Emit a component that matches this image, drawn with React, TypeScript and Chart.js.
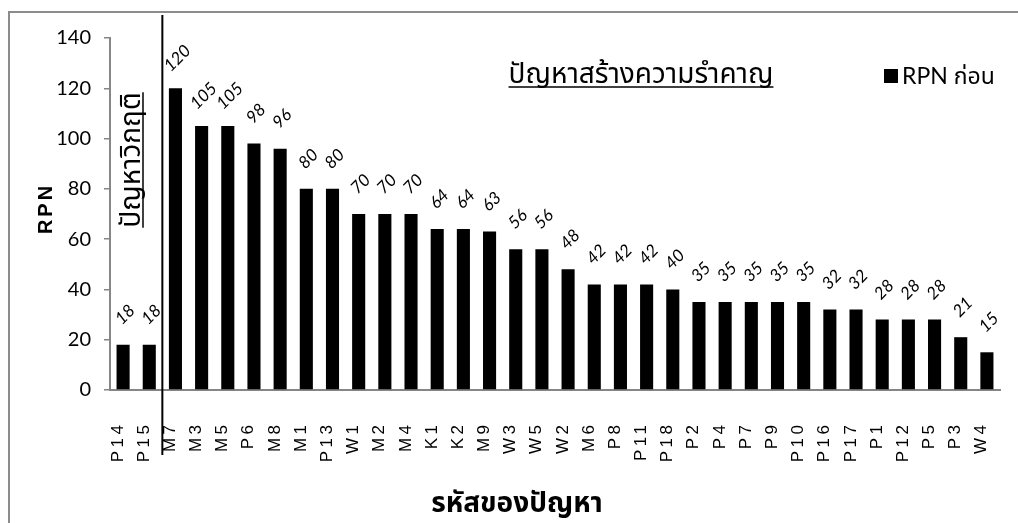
import React, { useEffect, useRef } from "react";
import { Chart, registerables } from "chart.js";

Chart.register(...registerables);

// ---------- data ----------
const categories = [
  "P14", "P15", "M7", "M3", "M5", "P6", "M8", "M1", "P13", "W1", "M2", "M4",
  "K1", "K2", "M9", "W3", "W5", "W2", "M6", "P8", "P11", "P18", "P2", "P4",
  "P7", "P9", "P10", "P16", "P17", "P1", "P12", "P5", "P3", "W4",
];
const rpnBefore = [
  18, 18, 120, 105, 105, 98, 96, 80, 80, 70, 70, 70,
  64, 64, 63, 56, 56, 48, 42, 42, 42, 40, 35, 35,
  35, 35, 35, 32, 32, 28, 28, 28, 21, 15,
];
const yMin = 0;
const yMax = 140;
const yStep = 20;
const seriesLabel = "RPN ก่อน";
const yTitle = "RPN";
const xTitle = "รหัสของปัญหา";
const criticalLabel = "ปัญหาวิกฤติ";
const nuisanceLabel = "ปัญหาสร้างความรำคาญ";
const criticalCount = 2;

const THAI = "'Noto Sans Thai', 'Noto Sans Thai UI', Loma, Garuda, 'Tlwg Typo', Kinnari, 'Noto Sans', sans-serif";
const LATO = "Lato, 'Liberation Sans', sans-serif";
const SANS = "'Liberation Sans', Arial, sans-serif";
const AXIS_GRAY = "#868686";

const overlayPlugin = {
  id: "overlay",
  afterDraw(chart: any) {
    const { ctx, chartArea } = chart;
    const xs = chart.scales.x;
    const meta = chart.getDatasetMeta(0);
    ctx.save();

    // separator between critical and nuisance problems
    const xSep = (xs.getPixelForValue(criticalCount - 1) + xs.getPixelForValue(criticalCount)) / 2;
    ctx.strokeStyle = "#000";
    ctx.lineWidth = 2;
    ctx.beginPath();
    ctx.moveTo(xSep, chartArea.top - 23);
    ctx.lineTo(xSep, chartArea.bottom + 65);
    ctx.stroke();

    // value labels, rotated
    ctx.fillStyle = "#000";
    ctx.font = `italic 17px ${LATO}`;
    meta.data.forEach((bar: any, i: number) => {
      ctx.save();
      ctx.translate(bar.x + 2, bar.y - 30);
      ctx.rotate(-Math.PI / 4);
      ctx.textAlign = "center";
      ctx.textBaseline = "middle";
      ctx.fillText(String(rpnBefore[i]), 0, 0);
      ctx.restore();
    });

    // category labels, vertical
    ctx.font = `17px ${SANS}`;
    categories.forEach((c, i) => {
      const x = xs.getPixelForValue(i);
      ctx.save();
      (ctx as any).letterSpacing = "3.5px";
      ctx.translate(x - 0.5, chartArea.bottom + 31.5);
      ctx.rotate(-Math.PI / 2);
      ctx.textAlign = "right";
      ctx.textBaseline = "alphabetic";
      ctx.fillText(c, 0, 0);
      ctx.restore();
    });

    // y axis title
    ctx.save();
    ctx.font = `bold 20px ${SANS}`;
    (ctx as any).letterSpacing = "3px";
    ctx.translate(52, 210);
    ctx.rotate(-Math.PI / 2);
    ctx.textAlign = "center";
    ctx.textBaseline = "alphabetic";
    ctx.fillText(yTitle, 1.5, 0);
    ctx.restore();

    // x axis title
    ctx.font = `bold 28px ${THAI}`;
    ctx.textAlign = "center";
    ctx.textBaseline = "alphabetic";
    ctx.fillText(xTitle, 517, 512);

    // nuisance label (underlined)
    ctx.font = `28px ${THAI}`;
    ctx.textAlign = "center";
    const nx = 641;
    const nw = ctx.measureText(nuisanceLabel).width;
    ctx.fillText(nuisanceLabel, nx, 83);
    ctx.lineWidth = 1.5;
    ctx.beginPath();
    ctx.moveTo(nx - nw / 2, 87);
    ctx.lineTo(nx + nw / 2, 87);
    ctx.stroke();

    // critical label (vertical, underlined)
    ctx.save();
    ctx.translate(140, 160);
    ctx.rotate(-Math.PI / 2);
    ctx.font = `28px ${THAI}`;
    ctx.textAlign = "center";
    ctx.textBaseline = "alphabetic";
    const cw = ctx.measureText(criticalLabel).width;
    ctx.fillText(criticalLabel, 0, 0);
    ctx.lineWidth = 1.5;
    ctx.beginPath();
    ctx.moveTo(-cw / 2, 3);
    ctx.lineTo(cw / 2, 3);
    ctx.stroke();
    ctx.restore();

    // legend
    ctx.fillStyle = "#000";
    ctx.fillRect(884, 69, 14, 14);
    ctx.font = `23px Lato, ${THAI}`;
    ctx.textAlign = "left";
    ctx.textBaseline = "alphabetic";
    ctx.fillText(seriesLabel, 902, 84);

    ctx.restore();
  },
};

export default function App() {
  const canvasRef = useRef<HTMLCanvasElement | null>(null);

  useEffect(() => {
    if (!canvasRef.current) return;
    const chart = new Chart(canvasRef.current, {
      type: "bar",
      data: {
        labels: categories,
        datasets: [
          {
            label: seriesLabel,
            data: rpnBefore,
            backgroundColor: "#000000",
            borderWidth: 0,
            barPercentage: 0.5,
            categoryPercentage: 1,
          },
        ],
      },
      options: {
        animation: false,
        responsive: false,
        maintainAspectRatio: false,
        layout: { padding: { left: 0, top: 38, right: 18, bottom: 0 } },
        plugins: {
          legend: { display: false },
          tooltip: { enabled: false },
          title: { display: false },
        },
        scales: {
          x: {
            grid: { display: false },
            border: { display: true, color: AXIS_GRAY, width: 2 },
            ticks: { display: false },
            afterFit: (scale: any) => {
              scale.height = 133;
            },
          },
          y: {
            min: yMin,
            max: yMax,
            ticks: {
              stepSize: yStep,
              padding: 13,
              color: "#000",
              font: { family: LATO, size: 20 },
            },
            grid: {
              display: true,
              drawOnChartArea: false,
              drawTicks: true,
              tickLength: 6,
              color: AXIS_GRAY,
              lineWidth: 1.5,
            },
            border: { display: true, color: AXIS_GRAY, width: 2 },
            afterFit: (scale: any) => {
              scale.width = 110;
            },
          },
        },
      },
      plugins: [overlayPlugin],
    });
    return () => chart.destroy();
  }, []);

  return (
    <div style={{ position: "fixed", left: 0, top: 0, width: 1018, height: 523, overflow: "hidden", background: "#fff" }}>
      <div
        style={{
          position: "absolute",
          left: 8,
          top: 11,
          width: 1030,
          height: 530,
          border: "2px solid #8c8c8c",
          boxSizing: "border-box",
        }}
      />
      <canvas ref={canvasRef} width={1018} height={523} style={{ position: "absolute", left: 0, top: 0, width: 1018, height: 523 }} />
    </div>
  );
}
